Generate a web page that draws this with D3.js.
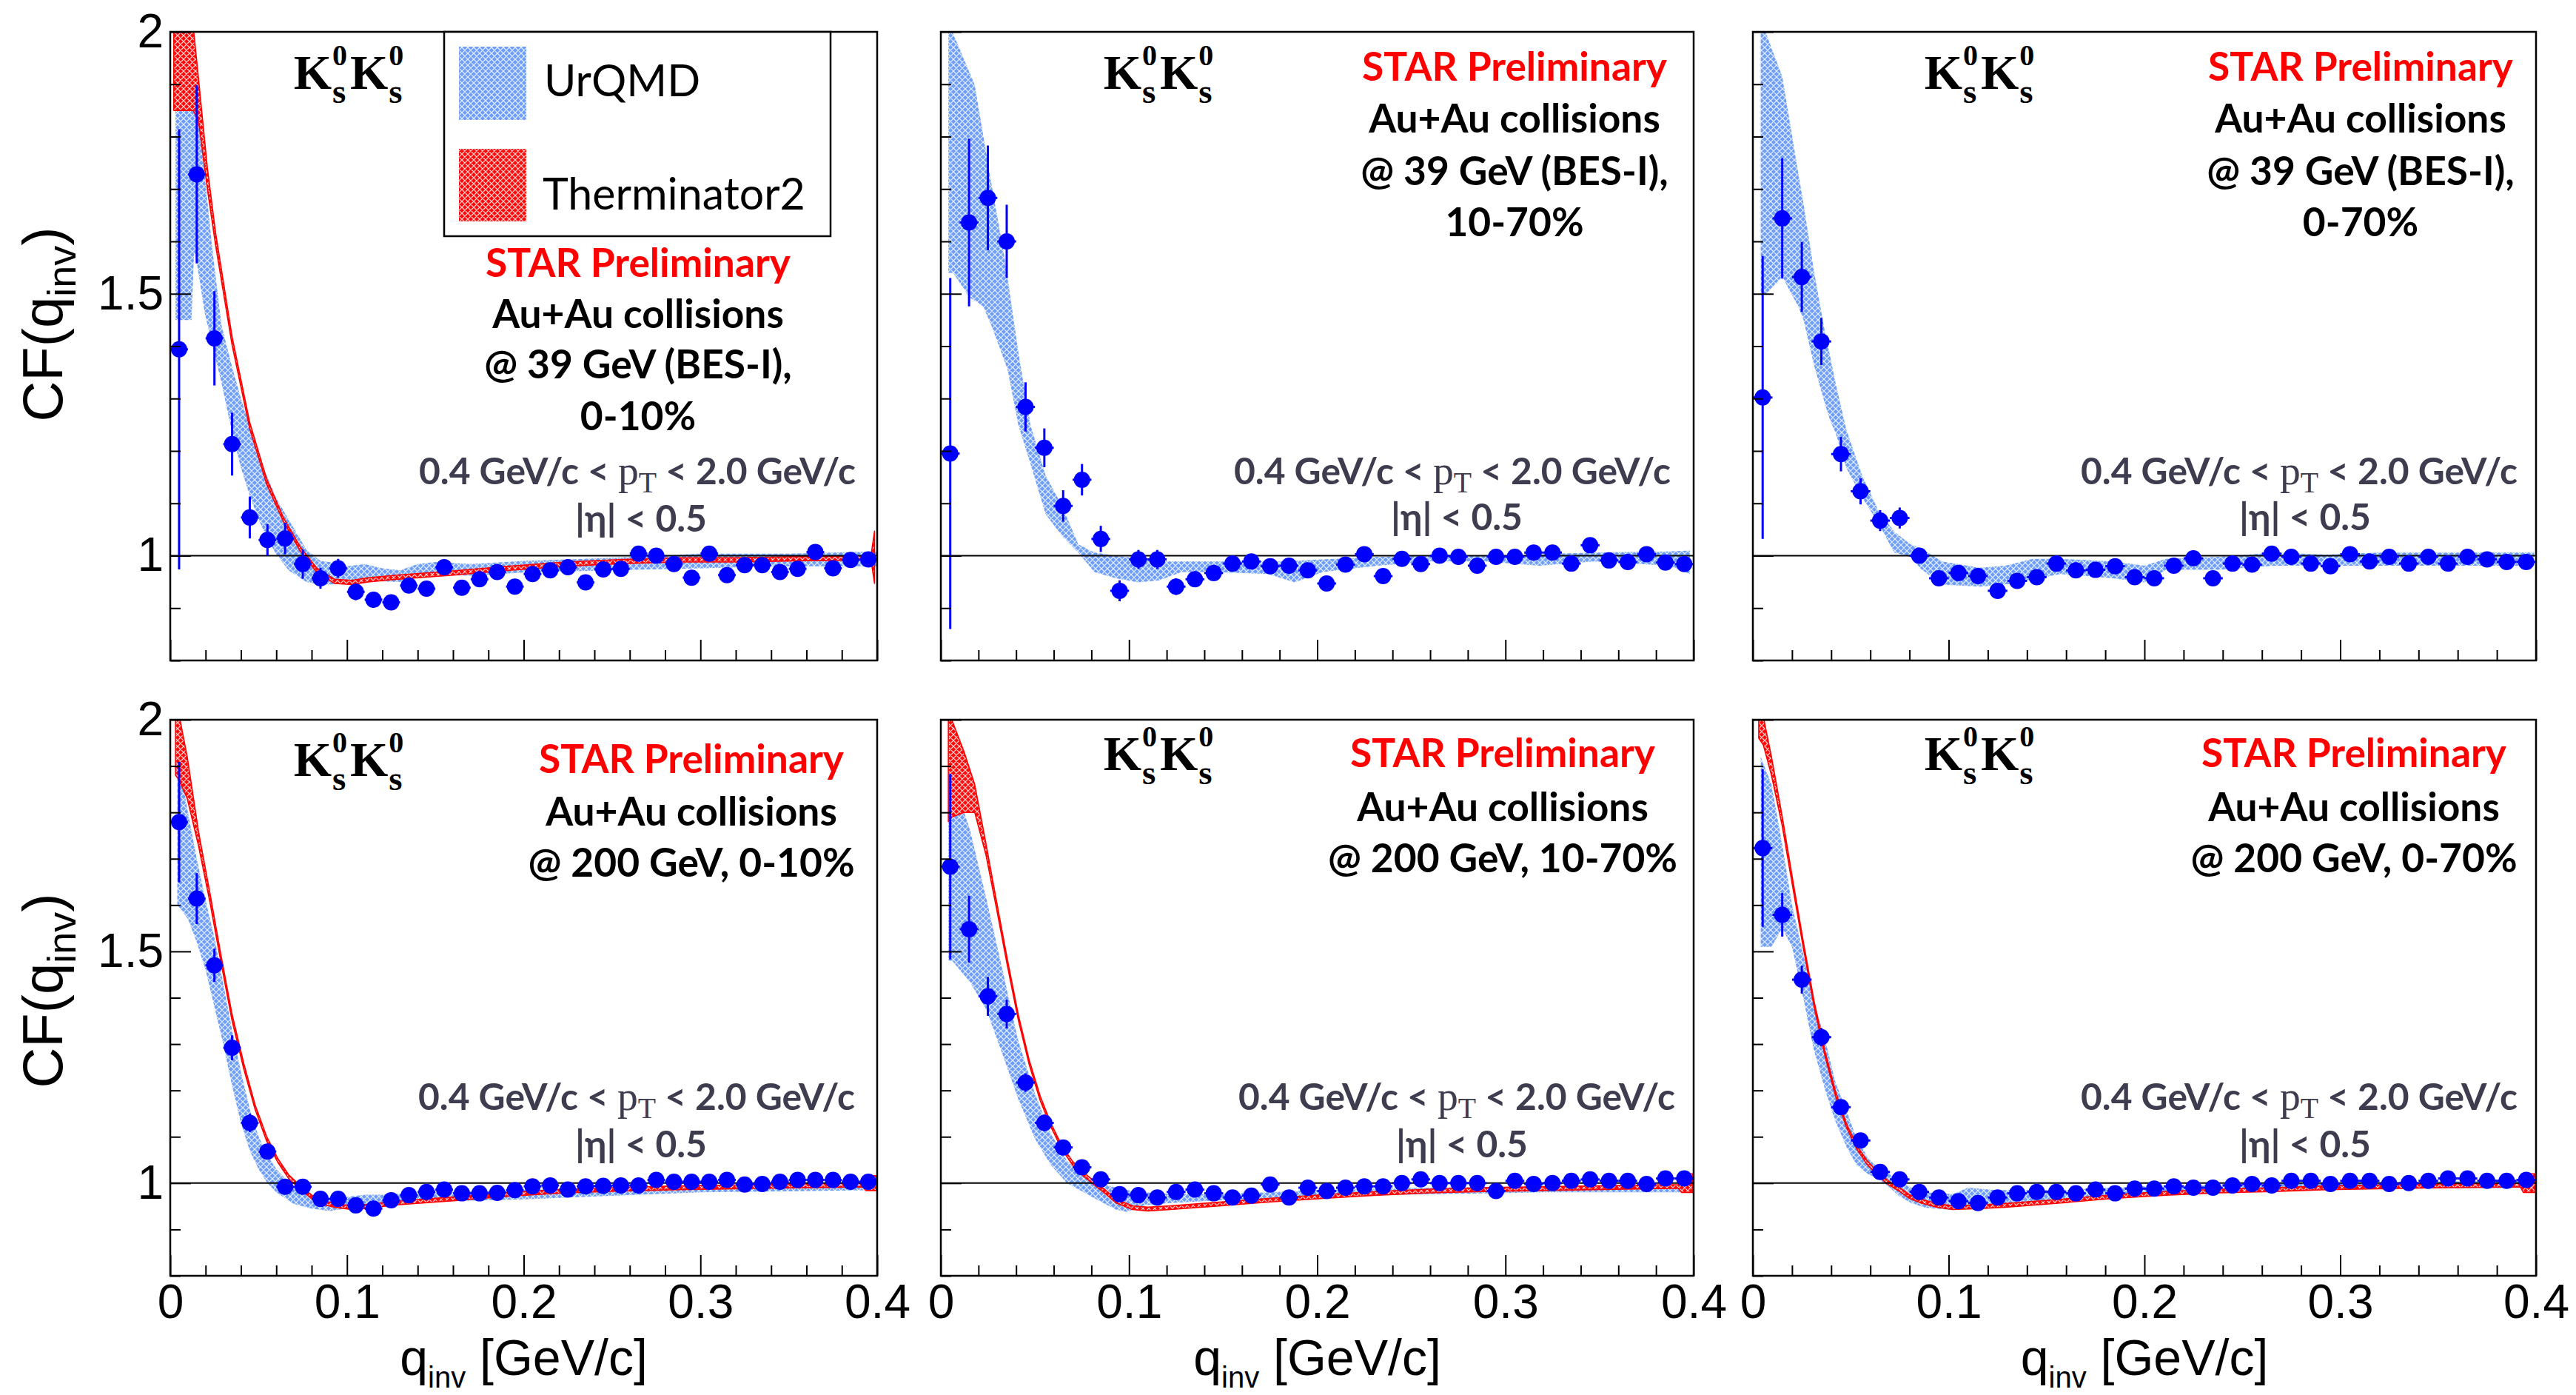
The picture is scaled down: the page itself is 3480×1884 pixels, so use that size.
<!DOCTYPE html>
<html>
<head>
<meta charset="utf-8">
<script src="https://cdn.jsdelivr.net/npm/d3@7/dist/d3.min.js"></script>
<style>
html,body{margin:0;padding:0;background:#fff;}
svg{display:block;}
</style>
</head>
<body>
<svg id="chart" width="3480" height="1884"></svg>
<script>
// ======================= DATA =======================
const binQ = [0.005,0.015,0.025,0.035,0.045,0.055,0.065,0.075,0.085,0.095,
              0.105,0.115,0.125,0.135,0.145,0.155,0.165,0.175,0.185,0.195,
              0.205,0.215,0.225,0.235,0.245,0.255,0.265,0.275,0.285,0.295,
              0.305,0.315,0.325,0.335,0.345,0.355,0.365,0.375,0.385,0.395];

const xMajorTicks = [0, 0.1, 0.2, 0.3, 0.4];
const xTickLabels = ["0", "0.1", "0.2", "0.3", "0.4"];
const xMinorTicks = [0.02,0.04,0.06,0.08,0.12,0.14,0.16,0.18,0.22,0.24,0.26,0.28,0.32,0.34,0.36,0.38];
const yMajorTicks = [1, 1.5, 2];
const yTickLabels = ["1", "1.5", "2"];
const yMinorTicks = [0.8,0.9,1.1,1.2,1.3,1.4,1.6,1.7,1.8,1.9];

// ---- Au+Au 39 GeV, 0-10% ----
const cf39_0_10 = [1.394,1.728,1.415,1.213,1.073,1.030,1.033,0.984,0.957,0.976,
                   0.931,0.916,0.911,0.943,0.937,0.978,0.939,0.955,0.969,0.941,
                   0.965,0.972,0.978,0.949,0.974,0.975,1.004,1.000,0.984,0.958,
                   1.004,0.963,0.982,0.982,0.969,0.975,1.007,0.976,0.992,0.993];
const err39_0_10 = [0.42,0.17,0.09,0.06,0.04,0.03,0.03,0.028,0.02,0.018,
                    0.016,0.015,0.015,0.014,0.014,0.013,0.013,0.012,0.012,0.012,
                    0.012,0.011,0.011,0.011,0.011,0.011,0.01,0.01,0.01,0.01,
                    0.01,0.01,0.01,0.01,0.01,0.01,0.01,0.01,0.01,0.01];
const urq39_0_10_q  = [0.003,0.008,0.012,0.0135,0.015,0.0197,0.024,0.029,0.035,0.04,0.045,0.05,0.056,0.06,0.067,0.077,0.085,0.09,0.1,0.11,0.12,0.13,0.14,0.15,0.17,0.2,0.25,0.3,0.35,0.4];
const urq39_0_10_hi = [1.98,1.97,1.95,1.93,1.88,1.72,1.58,1.44,1.36,1.30,1.248,1.19,1.142,1.11,1.069,1.012,0.99,0.988,0.98,0.984,0.976,0.972,0.984,0.988,0.984,0.99,0.996,1.004,1.004,1.008];
const urq39_0_10_lo = [1.45,1.45,1.45,1.58,1.56,1.46,1.40,1.33,1.235,1.168,1.115,1.069,1.026,1.003,0.972,0.95,0.945,0.945,0.947,0.955,0.951,0.95,0.959,0.963,0.962,0.968,0.972,0.976,0.98,0.98];
const th39_0_10_q = [0.002,0.005,0.009,0.013,0.016,0.021,0.0256,0.035,0.045,0.0545,0.064,0.0737,0.083,0.093,0.1026,0.112,0.128,0.16,0.192,0.224,0.256,0.288,0.32,0.353,0.3965,0.3985];
const th39_0_10_v = [1.95,1.95,1.95,1.93,1.87,1.72,1.606,1.41,1.248,1.142,1.069,1.012,0.972,0.951,0.949,0.954,0.959,0.967,0.976,0.984,0.989,0.992,0.992,0.994,0.996,0.997];
const th39_0_10_e = [0.1,0.1,0.1,0.08,0.04,0.02,0.012,0.008,0.006,0.005,0.004,0.004,0.004,0.004,0.004,0.004,0.004,0.004,0.004,0.004,0.004,0.004,0.004,0.004,0.004,0.05];

// ---- Au+Au 39 GeV, 10-70% ----
const cf39_10_70 = [1.195,1.636,1.683,1.600,1.284,1.206,1.095,1.145,1.032,0.933,
                    0.993,0.993,0.941,0.955,0.967,0.985,0.989,0.980,0.981,0.972,
                    0.947,0.983,1.003,0.961,0.994,0.984,1.000,0.998,0.981,0.998,
                    0.998,1.006,1.006,0.985,1.020,0.991,0.988,1.003,0.987,0.984];
const err39_10_70 = [0.335,0.16,0.10,0.07,0.047,0.037,0.03,0.03,0.025,0.02,
                     0.018,0.018,0.016,0.015,0.015,0.014,0.014,0.013,0.013,0.013,
                     0.013,0.012,0.012,0.012,0.012,0.012,0.011,0.011,0.011,0.011,
                     0.011,0.011,0.011,0.011,0.011,0.011,0.011,0.011,0.011,0.011];
const urq39_10_70_q  = [0.004,0.0066,0.0153,0.018,0.0225,0.0268,0.0297,0.034,0.0355,0.0412,0.0476,0.0557,0.0643,0.073,0.0816,0.093,0.105,0.116,0.128,0.145,0.174,0.188,0.203,0.232,0.26,0.289,0.318,0.347,0.387,0.398];
const urq39_10_70_hi = [2.02,1.996,1.922,1.899,1.803,1.712,1.653,1.566,1.529,1.388,1.250,1.153,1.096,1.022,1.006,1.0,0.995,0.989,0.989,0.989,0.989,0.99,0.993,0.998,1.0,1.0,1.003,1.006,1.008,1.01];
const urq39_10_70_lo = [1.54,1.54,1.493,1.487,1.476,1.44,1.412,1.37,1.355,1.249,1.176,1.079,1.038,1.006,0.969,0.957,0.949,0.953,0.969,0.969,0.965,0.949,0.969,0.981,0.989,0.989,0.981,0.989,0.981,0.965];

// ---- Au+Au 39 GeV, 0-70% ----
const cf39_0_70 = [1.302,1.644,1.532,1.409,1.194,1.123,1.067,1.072,1.000,0.957,
                   0.967,0.961,0.933,0.952,0.959,0.985,0.972,0.973,0.980,0.959,
                   0.957,0.981,0.995,0.957,0.985,0.983,1.004,0.998,0.985,0.980,
                   1.003,0.989,0.998,0.985,0.998,0.985,0.998,0.993,0.988,0.988];
const err39_0_70 = [0.27,0.115,0.067,0.045,0.033,0.025,0.02,0.02,0.015,0.013,
                    0.012,0.012,0.012,0.011,0.011,0.01,0.01,0.01,0.01,0.01,
                    0.009,0.009,0.009,0.009,0.009,0.009,0.009,0.009,0.009,0.009,
                    0.009,0.009,0.009,0.009,0.009,0.009,0.009,0.009,0.009,0.009];
const urq39_0_70_q  = [0.004,0.0068,0.015,0.0204,0.0232,0.0259,0.0313,0.0368,0.0395,0.0422,0.0477,0.0559,0.064,0.0722,0.0804,0.0858,0.0967,0.1158,0.129,0.143,0.157,0.184,0.2,0.211,0.238,0.266,0.293,0.32,0.347,0.399];
const urq39_0_70_hi = [2.02,1.996,1.915,1.793,1.73,1.671,1.541,1.427,1.38,1.330,1.241,1.152,1.087,1.046,1.022,1.014,0.989,0.977,0.981,0.994,0.994,0.989,0.981,0.994,0.998,1.006,1.002,1.006,1.006,1.006];
const urq39_0_70_lo = [1.50,1.50,1.533,1.495,1.476,1.45,1.363,1.29,1.258,1.235,1.168,1.111,1.063,1.006,0.998,0.975,0.945,0.941,0.945,0.955,0.965,0.957,0.949,0.973,0.973,0.981,0.981,0.981,0.981,0.981];

// ---- Au+Au 200 GeV, 0-10% ----
const cf200_0_10 = [1.779,1.614,1.470,1.292,1.130,1.068,0.992,0.992,0.966,0.966,
                    0.952,0.945,0.963,0.974,0.981,0.986,0.978,0.978,0.979,0.985,
                    0.993,0.995,0.986,0.993,0.994,0.995,0.995,1.007,1.003,1.003,
                    1.003,1.007,0.997,0.998,1.003,1.007,1.007,1.007,1.003,1.003];
const err200_0_10 = [0.13,0.055,0.036,0.027,0.02,0.015,0.012,0.011,0.01,0.01,
                     0.009,0.009,0.009,0.009,0.009,0.009,0.009,0.009,0.009,0.009,
                     0.008,0.008,0.008,0.008,0.008,0.008,0.008,0.008,0.008,0.008,
                     0.008,0.008,0.008,0.008,0.008,0.008,0.008,0.008,0.008,0.008];
const urq200_0_10_q  = [0.004,0.01,0.015,0.02,0.025,0.03,0.035,0.04,0.045,0.05,0.055,0.06,0.07,0.08,0.09,0.1,0.11,0.12,0.15,0.2,0.3,0.4];
const urq200_0_10_hi = [1.93,1.80,1.70,1.61,1.53,1.43,1.33,1.24,1.16,1.10,1.06,1.03,0.99,0.975,0.965,0.97,0.975,0.975,0.98,0.985,0.995,1.0];
const urq200_0_10_lo = [1.60,1.57,1.52,1.46,1.38,1.30,1.21,1.13,1.07,1.03,1.00,0.98,0.955,0.945,0.94,0.945,0.95,0.955,0.96,0.965,0.98,0.985];
const th200_0_10_q = [0.003,0.005,0.0096,0.016,0.0224,0.0288,0.035,0.0417,0.048,0.0545,0.061,0.067,0.0737,0.083,0.093,0.1026,0.112,0.128,0.16,0.192,0.224,0.256,0.288,0.32,0.353,0.392,0.3935,0.3995];
const th200_0_10_v = [1.96,1.94,1.875,1.743,1.617,1.482,1.357,1.251,1.164,1.096,1.048,1.014,0.990,0.961,0.952,0.947,0.950,0.957,0.966,0.976,0.983,0.987,0.990,0.992,0.994,0.996,1.0,1.0];
const th200_0_10_e = [0.08,0.07,0.045,0.015,0.01,0.008,0.007,0.006,0.005,0.005,0.004,0.004,0.004,0.004,0.004,0.004,0.004,0.004,0.004,0.004,0.004,0.004,0.004,0.004,0.004,0.004,0.016,0.016];

// ---- Au+Au 200 GeV, 10-70% ----
const cf200_10_70 = [1.683,1.548,1.403,1.365,1.217,1.130,1.077,1.034,1.008,0.976,
                     0.974,0.969,0.981,0.986,0.978,0.969,0.973,0.997,0.969,0.990,
                     0.983,0.990,0.993,0.993,1.000,1.008,1.000,1.000,1.000,0.983,
                     1.005,0.998,1.000,1.005,1.008,1.005,1.005,0.998,1.010,1.010];
const err200_10_70 = [0.2,0.072,0.042,0.031,0.02,0.018,0.015,0.013,0.012,0.011,
                      0.011,0.01,0.01,0.01,0.01,0.01,0.01,0.01,0.01,0.01,
                      0.009,0.009,0.009,0.009,0.009,0.009,0.009,0.009,0.009,0.009,
                      0.009,0.009,0.009,0.009,0.009,0.009,0.009,0.009,0.009,0.009];
const urq200_10_70_q  = [0.004,0.006,0.0155,0.024,0.0326,0.041,0.050,0.0585,0.067,0.076,0.084,0.093,0.099,0.108,0.122,0.145,0.174,0.2,0.26,0.32,0.4];
const urq200_10_70_hi = [1.88,1.88,1.762,1.617,1.463,1.309,1.193,1.106,1.048,1.014,1.0,0.99,0.985,0.98,0.976,0.976,0.98,0.985,0.99,0.993,0.995];
const urq200_10_70_lo = [1.48,1.48,1.434,1.376,1.28,1.183,1.096,1.039,1.0,0.98,0.962,0.943,0.938,0.952,0.957,0.962,0.966,0.97,0.976,0.98,0.98];
const th200_10_70_q = [0.004,0.0058,0.0124,0.018,0.024,0.0297,0.0355,0.0412,0.047,0.0528,0.0585,0.0643,0.070,0.0758,0.0816,0.0874,0.0932,0.1018,0.110,0.122,0.145,0.174,0.203,0.232,0.260,0.289,0.318,0.347,0.376,0.392,0.3935,0.3995];
const th200_10_70_v = [1.9,1.895,1.865,1.83,1.72,1.598,1.473,1.357,1.260,1.183,1.125,1.077,1.043,1.019,1.000,0.981,0.961,0.947,0.944,0.947,0.954,0.963,0.971,0.978,0.983,0.986,0.988,0.990,0.992,0.993,1.0,1.0];
const th200_10_70_e = [0.12,0.105,0.065,0.03,0.012,0.008,0.007,0.006,0.005,0.005,0.004,0.004,0.004,0.004,0.004,0.004,0.004,0.004,0.004,0.004,0.004,0.004,0.004,0.004,0.004,0.004,0.004,0.004,0.004,0.004,0.02,0.02];

// ---- Au+Au 200 GeV, 0-70% ----
const cf200_0_70 = [1.723,1.579,1.439,1.315,1.164,1.092,1.024,1.008,0.981,0.969,
                    0.961,0.957,0.969,0.978,0.981,0.981,0.978,0.986,0.978,0.988,
                    0.988,0.993,0.990,0.990,0.995,0.998,0.995,1.005,1.005,0.998,
                    1.005,1.005,0.998,1.000,1.005,1.010,1.010,1.005,1.005,1.007];
const err200_0_70 = [0.17,0.047,0.03,0.02,0.015,0.012,0.01,0.009,0.008,0.008,
                     0.008,0.008,0.008,0.008,0.008,0.008,0.008,0.008,0.008,0.008,
                     0.007,0.007,0.007,0.007,0.007,0.007,0.007,0.007,0.007,0.007,
                     0.007,0.007,0.007,0.007,0.007,0.007,0.007,0.007,0.007,0.007];
const urq200_0_70_q  = [0.004,0.0095,0.015,0.020,0.026,0.031,0.037,0.042,0.048,0.053,0.059,0.064,0.070,0.075,0.081,0.088,0.102,0.11,0.124,0.157,0.184,0.211,0.265,0.4];
const urq200_0_70_hi = [1.92,1.86,1.73,1.60,1.49,1.395,1.308,1.22,1.154,1.096,1.053,1.034,1.019,1.005,0.99,0.98,0.976,0.99,0.985,0.985,0.99,0.995,1.0,1.005];
const urq200_0_70_lo = [1.51,1.51,1.55,1.51,1.395,1.29,1.20,1.135,1.077,1.039,1.019,1.01,0.99,0.971,0.957,0.947,0.942,0.945,0.952,0.962,0.966,0.976,0.986,0.99];
const th200_0_70_q = [0.003,0.0054,0.0095,0.015,0.0204,0.0259,0.0313,0.0368,0.0422,0.0477,0.0531,0.0586,0.064,0.0695,0.075,0.080,0.086,0.094,0.102,0.116,0.129,0.157,0.184,0.211,0.238,0.266,0.293,0.320,0.347,0.375,0.392,0.3935,0.3995];
const th200_0_70_v = [2.0,1.975,1.9,1.781,1.646,1.511,1.386,1.280,1.193,1.125,1.077,1.043,1.019,1.000,0.986,0.971,0.961,0.952,0.947,0.949,0.952,0.961,0.971,0.978,0.983,0.986,0.990,0.992,0.994,0.995,0.996,1.0,1.0];
const th200_0_70_e = [0.04,0.03,0.02,0.01,0.008,0.007,0.006,0.005,0.005,0.004,0.004,0.004,0.004,0.004,0.004,0.004,0.004,0.004,0.004,0.004,0.004,0.004,0.004,0.004,0.004,0.004,0.004,0.004,0.004,0.004,0.004,0.02,0.02];

const legendLabels = ["UrQMD", "Therminator2"];
const prelimLabel = "STAR Preliminary";
const ptLabelParts = ["0.4 GeV/c < ", "p", "T", " < 2.0 GeV/c"];
const etaLabel = "|\u03B7| < 0.5";

const panels = [
  {cf:cf39_0_10, err:err39_0_10, uq:urq39_0_10_q, ulo:urq39_0_10_lo, uhi:urq39_0_10_hi,
   tq:th39_0_10_q, tv:th39_0_10_v, te:th39_0_10_e, lines:["Au+Au collisions","@ 39 GeV (BES-I),","0-10%"]},
  {cf:cf39_10_70, err:err39_10_70, uq:urq39_10_70_q, ulo:urq39_10_70_lo, uhi:urq39_10_70_hi,
   tq:null, lines:["Au+Au collisions","@ 39 GeV (BES-I),","10-70%"]},
  {cf:cf39_0_70, err:err39_0_70, uq:urq39_0_70_q, ulo:urq39_0_70_lo, uhi:urq39_0_70_hi,
   tq:null, lines:["Au+Au collisions","@ 39 GeV (BES-I),","0-70%"]},
  {cf:cf200_0_10, err:err200_0_10, uq:urq200_0_10_q, ulo:urq200_0_10_lo, uhi:urq200_0_10_hi,
   tq:th200_0_10_q, tv:th200_0_10_v, te:th200_0_10_e, lines:["Au+Au collisions","@ 200 GeV, 0-10%"]},
  {cf:cf200_10_70, err:err200_10_70, uq:urq200_10_70_q, ulo:urq200_10_70_lo, uhi:urq200_10_70_hi,
   tq:th200_10_70_q, tv:th200_10_70_v, te:th200_10_70_e, lines:["Au+Au collisions","@ 200 GeV, 10-70%"]},
  {cf:cf200_0_70, err:err200_0_70, uq:urq200_0_70_q, ulo:urq200_0_70_lo, uhi:urq200_0_70_hi,
   tq:th200_0_70_q, tv:th200_0_70_v, te:th200_0_70_e, lines:["Au+Au collisions","@ 200 GeV, 0-70%"]}
];

// ======================= LAYOUT =======================
const cols = [[230,1185],[1271,2288],[2368,3426]];
const rows = [[43,892],[972,1723]];
const layout = [
  {row:0,col:0,kx:472, ky:120, bx:862, by:[374,443,511,581], px:861, py:654, ex:866, ey:718, legend:true},
  {row:0,col:1,kx:1566,ky:120, bx:2046,by:[109,179,250,319], px:1962,py:654, ex:1968,ey:716},
  {row:0,col:2,kx:2675,ky:120, bx:3189,by:[109,179,250,319], px:3106,py:654, ex:3114,ey:716},
  {row:1,col:0,kx:472, ky:1048,bx:934, by:[1044,1115,1184],  px:860, py:1499,ex:866, ey:1563},
  {row:1,col:1,kx:1566,ky:1040,bx:2030,by:[1036,1109,1178],  px:1968,py:1499,ex:1975,ey:1563},
  {row:1,col:2,kx:2675,ky:1040,bx:3180,by:[1036,1109,1178],  px:3106,py:1499,ex:3114,ey:1563}
];
const SANS  = "'Liberation Sans', Arial, Helvetica, sans-serif";
const CAL   = "Lato, 'Open Sans', 'Noto Sans', sans-serif";
const SERIF = "'Liberation Serif', 'Times New Roman', serif";
const PTCOL = "#3d3d4f";

function draw(){
  const svg = d3.select('#chart');
  svg.append('rect').attr('width',3480).attr('height',1884).attr('fill','#fff');
  const defs = svg.append('defs');

  function mkPattern(id, base, line){
    const p = defs.append('pattern').attr('id',id).attr('patternUnits','userSpaceOnUse')
      .attr('width',8).attr('height',8);
    p.append('rect').attr('width',8).attr('height',8).attr('fill',base);
    p.append('path').attr('d','M0,0L8,8M8,0L0,8M-2,6L2,10M6,-2L10,2M-2,2L2,-2M6,10L10,6')
      .attr('stroke',line).attr('stroke-width',1.2).attr('stroke-opacity',0.85).attr('fill','none');
  }
  mkPattern('patU','#6f9ff6','#ffffff');
  mkPattern('patT','#ff0a0a','#ffffff');

  function measure(build){
    const t = svg.append('text').attr('x',-9000).attr('y',-9000);
    build(t);
    const w = t.node().getComputedTextLength();
    t.remove();
    return w;
  }
  const fsMain = 100*412/measure(t=>t.attr('font-family',CAL).attr('font-weight','bold').attr('font-size',100).text(prelimLabel));
  function buildPt(t, fs){
    t.attr('font-family',CAL).attr('font-weight','bold').attr('font-size',fs).attr('fill',PTCOL);
    t.append('tspan').text(ptLabelParts[0]);
    t.append('tspan').attr('font-family',SERIF).attr('font-weight','normal').attr('font-size',fs*1.12).text(ptLabelParts[1]);
    t.append('tspan').attr('font-family',SERIF).attr('font-weight','normal').attr('font-size',fs*0.8).attr('dy',fs*0.22).text(ptLabelParts[2]);
    t.append('tspan').attr('dy',-fs*0.22).text(ptLabelParts[3]);
  }
  const fsPt = 100*590/measure(t=>buildPt(t,100));
  const fsLeg = 100*355/measure(t=>t.attr('font-family',CAL).attr('font-size',100).text(legendLabels[1]));

  // K0s K0s label sizes
  const KFS = 66, ZFS = 40, SFS = 47;
  const SUPY = -32, SUBY = 19;
  const wK = measure(t=>t.attr('font-family',SERIF).attr('font-weight','bold').attr('font-size',KFS).text('K'));
  const w0 = measure(t=>t.attr('font-family',SERIF).attr('font-weight','bold').attr('font-size',ZFS).text('0'));
  const wS = measure(t=>t.attr('font-family',SERIF).attr('font-weight','bold').attr('font-size',SFS).text('s'));
  const colW = Math.max(w0,wS);
  const kTot = 2*wK + 2*colW + 8;

  panels.forEach((p,i)=>{
    const L = layout[i];
    const [x0,x1] = cols[L.col], [y0,y1] = rows[L.row];
    const x = d3.scaleLinear().domain([0,0.4]).range([x0,x1]);
    const y = d3.scaleLinear().domain([0.8,2]).range([y1,y0]);
    const g = svg.append('g');
    defs.append('clipPath').attr('id','clip'+i).append('rect')
      .attr('x',x0).attr('y',y0).attr('width',x1-x0).attr('height',y1-y0);
    const pg = g.append('g').attr('clip-path',`url(#clip${i})`);

    const area = d3.area().x(d=>x(d[0])).y0(d=>y(d[1])).y1(d=>y(d[2]));
    pg.append('path').datum(p.uq.map((q,k)=>[q,p.ulo[k],p.uhi[k]]))
      .attr('d',area).attr('fill','url(#patU)');
    if(p.tq){
      pg.append('path').datum(p.tq.map((q,k)=>[q,p.tv[k]-p.te[k],p.tv[k]+p.te[k]]))
        .attr('d',area).attr('fill','url(#patT)')
        .attr('stroke','#ff0000').attr('stroke-width',1.6).attr('stroke-linejoin','round');
    }
    // unity line
    pg.append('line').attr('x1',x0).attr('x2',x1).attr('y1',y(1)).attr('y2',y(1))
      .attr('stroke','#000').attr('stroke-width',2);

    // data points
    const idx = d3.range(binQ.length);
    pg.selectAll('line.ey').data(idx).join('line').attr('class','ey')
      .attr('x1',k=>x(binQ[k])).attr('x2',k=>x(binQ[k]))
      .attr('y1',k=>y(p.cf[k]-p.err[k])).attr('y2',k=>y(p.cf[k]+p.err[k]))
      .attr('stroke','#0000ff').attr('stroke-width',3);
    pg.selectAll('line.ex').data(idx).join('line').attr('class','ex')
      .attr('x1',k=>x(binQ[k]-0.005)).attr('x2',k=>x(binQ[k]+0.005))
      .attr('y1',k=>y(p.cf[k])).attr('y2',k=>y(p.cf[k]))
      .attr('stroke','#0000ff').attr('stroke-width',3);
    pg.selectAll('circle.pt').data(idx).join('circle').attr('class','pt')
      .attr('cx',k=>x(binQ[k])).attr('cy',k=>y(p.cf[k])).attr('r',11).attr('fill','#0000ff');

    // axes
    function styleAxis(a){
      a.select('.domain').remove();
      a.attr('font-family',SANS).attr('font-size',64);
      a.selectAll('line').attr('stroke','#000').attr('stroke-width',2);
      a.selectAll('text').attr('fill','#000');
      a.selectAll('text').filter(function(){ return this.textContent === ''; }).remove();
    }
    g.append('g').attr('transform',`translate(${x0},0)`)
      .call(d3.axisLeft(y).tickValues(yMinorTicks).tickSizeInner(-14).tickSizeOuter(0).tickFormat(''))
      .call(styleAxis);
    g.append('g').attr('transform',`translate(${x0},0)`)
      .call(d3.axisLeft(y).tickValues(yMajorTicks).tickSizeInner(-28).tickSizeOuter(0).tickPadding(9)
        .tickFormat((d,k)=> L.col===0 ? yTickLabels[k] : ''))
      .call(styleAxis);
    g.append('g').attr('transform',`translate(0,${y1})`)
      .call(d3.axisBottom(x).tickValues(xMinorTicks).tickSizeInner(-14).tickSizeOuter(0).tickFormat(''))
      .call(styleAxis);
    g.append('g').attr('transform',`translate(0,${y1})`)
      .call(d3.axisBottom(x).tickValues(xMajorTicks).tickSizeInner(-28).tickSizeOuter(0).tickPadding(12)
        .tickFormat((d,k)=> L.row===1 ? xTickLabels[k] : ''))
      .call(styleAxis);

    // frame
    g.append('rect').attr('x',x0).attr('y',y0).attr('width',x1-x0).attr('height',y1-y0)
      .attr('fill','none').attr('stroke','#000').attr('stroke-width',2.5);

    // K0s K0s label as one text element
    const kt = g.append('text').attr('x',L.kx - kTot/2).attr('y',L.ky)
      .attr('font-family',SERIF).attr('font-weight','bold').attr('fill','#000');
    for(let r=0;r<2;r++){
      kt.append('tspan').attr('font-size',KFS).attr('dx', r===0 ? 0 : 4 + (colW-wS)).attr('dy', r===0 ? 0 : -SUBY).text('K');
      kt.append('tspan').attr('font-size',ZFS).attr('dx',1).attr('dy',SUPY).text('0');
      kt.append('tspan').attr('font-size',SFS).attr('dx',-w0).attr('dy',SUBY-SUPY).text('s');
    }

    // annotation block
    g.append('text').attr('x',L.bx).attr('y',L.by[0]).attr('text-anchor','middle')
      .attr('font-family',CAL).attr('font-weight','bold').attr('font-size',fsMain)
      .attr('fill','#ff0000').text(prelimLabel);
    p.lines.forEach((s,k)=>{
      g.append('text').attr('x',L.bx).attr('y',L.by[k+1]).attr('text-anchor','middle')
        .attr('font-family',CAL).attr('font-weight','bold').attr('font-size',fsMain)
        .attr('fill','#000').text(s);
    });
    const pt = g.append('text').attr('x',L.px).attr('y',L.py).attr('text-anchor','middle');
    buildPt(pt, fsPt);
    g.append('text').attr('x',L.ex).attr('y',L.ey).attr('text-anchor','middle')
      .attr('font-family',CAL).attr('font-weight','bold').attr('font-size',fsPt)
      .attr('fill',PTCOL).text(etaLabel);

    // legend
    if(L.legend){
      const lg = g.append('g');
      lg.append('rect').attr('x',600).attr('y',43).attr('width',522).attr('height',276)
        .attr('fill','#fff').attr('stroke','#000').attr('stroke-width',2.5);
      lg.append('rect').attr('x',620).attr('y',63).attr('width',91).attr('height',99).attr('fill','url(#patU)');
      lg.append('rect').attr('x',620).attr('y',201).attr('width',91).attr('height',98).attr('fill','url(#patT)');
      lg.append('text').attr('x',735).attr('y',130).attr('font-family',CAL).attr('font-size',fsLeg)
        .attr('fill','#000').text(legendLabels[0]);
      lg.append('text').attr('x',733).attr('y',283).attr('font-family',CAL).attr('font-size',fsLeg)
        .attr('fill','#000').text(legendLabels[1]);
    }
  });

  // axis titles
  [438,1338].forEach(cy=>{
    const t = svg.append('text').attr('transform',`translate(84,${cy}) rotate(-90)`)
      .attr('text-anchor','middle').attr('font-family',SANS).attr('font-size',76).attr('fill','#000');
    t.append('tspan').text('CF(q');
    t.append('tspan').attr('font-size',54).attr('dy',18).text('inv');
    t.append('tspan').attr('dy',-18).text(')');
  });
  cols.forEach(([a,b])=>{
    const t = svg.append('text').attr('x',(a+b)/2).attr('y',1857)
      .attr('text-anchor','middle').attr('font-family',SANS).attr('font-size',68).attr('fill','#000');
    t.append('tspan').text('q');
    t.append('tspan').attr('font-size',40).attr('dy',17).text('inv');
    t.append('tspan').attr('dy',-17).text(' [GeV/c]');
  });
}
if (document.fonts && document.fonts.ready) { document.fonts.ready.then(draw); } else { draw(); }
</script>
</body>
</html>
